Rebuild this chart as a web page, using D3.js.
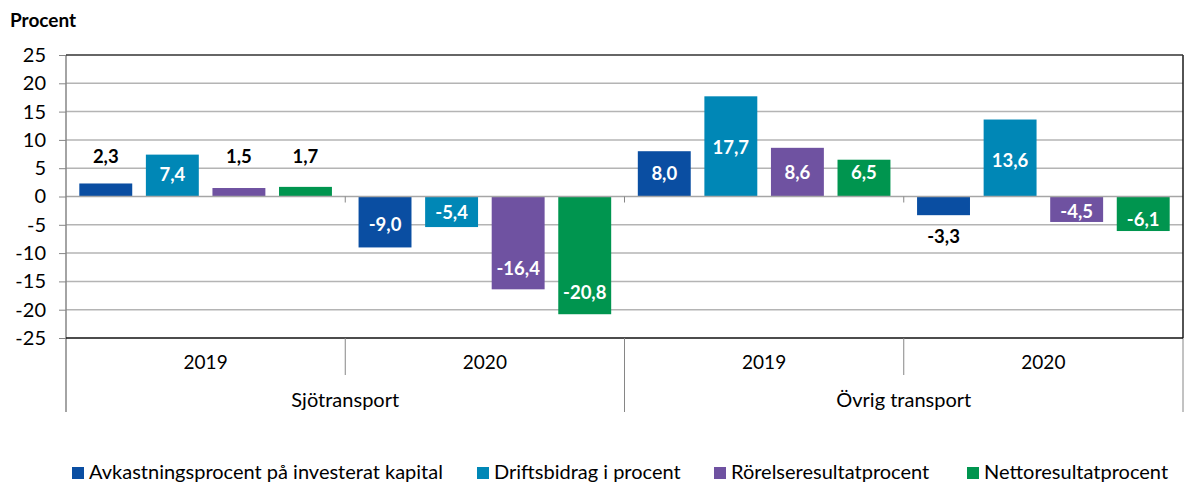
<!DOCTYPE html>
<html><head><meta charset="utf-8">
<script src="https://cdn.jsdelivr.net/npm/d3@7"></script>
<style>
html,body{margin:0;padding:0;background:#fff;}
svg{display:block;font-family:Lato,"Open Sans",sans-serif;}
</style></head>
<body>
<svg id="chart" width="1184" height="483"></svg>
<script>
// ---- data ----
const categories = ["Sjötransport", "Övrig transport"];
const years = ["2019", "2020"];
const seriesNames = ["Avkastningsprocent på investerat kapital", "Driftsbidrag i procent", "Rörelseresultatprocent", "Nettoresultatprocent"];
const seriesColors = ["#0A4EA2", "#0087B6", "#6F52A1", "#00954F"];
// values per subgroup: Sjö 2019, Sjö 2020, Övrig 2019, Övrig 2020
const avkastning = [2.3, -9.0, 8.0, -3.3];
const driftsbidrag = [7.4, -5.4, 17.7, 13.6];
const rorelseresultat = [1.5, -16.4, 8.6, -4.5];
const nettoresultat = [1.7, -20.8, 6.5, -6.1];
// where each data label sits, in value units
const labelAtAvk = [7.0, -5.0, 4.1, -7.1];
const labelAtDrift = [3.8, -2.9, 8.6, 6.4];
const labelAtRor = [7.0, -12.8, 4.15, -2.7];
const labelAtNetto = [7.0, -17.0, 4.15, -4.15];
const yTicks = [25, 20, 15, 10, 5, 0, -5, -10, -15, -20, -25];

const seriesValues = [avkastning, driftsbidrag, rorelseresultat, nettoresultat];
const labelAt = [labelAtAvk, labelAtDrift, labelAtRor, labelAtNetto];
const subgroups = [];
categories.forEach(c => years.forEach(y => subgroups.push(c + "|" + y)));

// ---- layout ----
const svg = d3.select("#chart");
const L = 66, R = 1183, T = 55, B = 338;

const y = d3.scaleLinear().domain([-25, 25]).range([B, T]);
const x0 = d3.scaleBand().domain(subgroups).range([L, R]).paddingInner(0).paddingOuter(0);
const x1 = d3.scaleBand().domain(d3.range(seriesNames.length)).range([0, x0.bandwidth()]).paddingInner(0.205).paddingOuter(0.2);
const xc = d3.scaleBand().domain(categories).range([L, R]);

// gridlines
svg.append("g").selectAll("line").data(yTicks.filter(t => t !== 25 && t !== -25 && t !== 0)).join("line")
  .attr("x1", L).attr("x2", R).attr("y1", d => y(d)).attr("y2", d => y(d))
  .attr("stroke", "#b4b4b4").attr("stroke-width", 1.5);

// y axis
const yAxis = d3.axisLeft(y).tickValues(yTicks).tickSize(7).tickPadding(13).tickFormat(d3.format("d"));
const gy = svg.append("g").attr("transform", `translate(${L},0)`).call(yAxis);
gy.select(".domain").remove();
gy.selectAll(".tick line").attr("stroke", "#868686").attr("stroke-width", 1);
gy.selectAll(".tick text").attr("font-family", "Lato").attr("font-size", 20).attr("fill", "#000")
  .text(d => d < 0 ? "-" + Math.abs(d) : d);

// bars
const barData = [];
seriesValues.forEach((arr, si) => arr.forEach((v, gi) => barData.push({si, gi, v, la: labelAt[si][gi]})));
svg.append("g").selectAll("rect").data(barData).join("rect")
  .attr("x", d => x0(subgroups[d.gi]) + x1(d.si))
  .attr("width", x1.bandwidth())
  .attr("y", d => y(Math.max(0, d.v)))
  .attr("height", d => Math.abs(y(d.v) - y(0)))
  .attr("fill", d => seriesColors[d.si]);

// zero axis
svg.append("line").attr("x1", L).attr("x2", R).attr("y1", y(0)).attr("y2", y(0)).attr("stroke", "#a6a6a6").attr("stroke-width", 1.5);
svg.append("g").selectAll("line").data(subgroups.slice(1)).join("line")
  .attr("x1", d => x0(d)).attr("x2", d => x0(d)).attr("y1", y(0)).attr("y2", y(0) + 6)
  .attr("stroke", "#868686").attr("stroke-width", 1);

// frame
svg.append("line").attr("x1", L).attr("x2", L).attr("y1", T).attr("y2", 412).attr("stroke", "#868686").attr("stroke-width", 1.5);
svg.append("line").attr("x1", R).attr("x2", R).attr("y1", B).attr("y2", 412).attr("stroke", "#868686").attr("stroke-width", 1);
svg.append("line").attr("x1", R).attr("x2", R).attr("y1", T).attr("y2", B).attr("stroke", "#1a1a1a").attr("stroke-width", 1.5);
svg.append("line").attr("x1", L).attr("x2", R).attr("y1", T).attr("y2", T).attr("stroke", "#333").attr("stroke-width", 1.5);
svg.append("line").attr("x1", L).attr("x2", R).attr("y1", B).attr("y2", B).attr("stroke", "#111").attr("stroke-width", 1.5);

// x dividers: year boundaries inside categories
categories.forEach(c => {
  const xm = x0(c + "|" + years[1]);
  svg.append("line").attr("x1", xm).attr("x2", xm).attr("y1", B).attr("y2", 375).attr("stroke", "#868686").attr("stroke-width", 1);
});
categories.slice(1).forEach(c => {
  const xm = xc(c);
  svg.append("line").attr("x1", xm).attr("x2", xm).attr("y1", B).attr("y2", 412).attr("stroke", "#868686").attr("stroke-width", 1);
});

// year labels
svg.append("g").selectAll("text").data(subgroups).join("text")
  .attr("x", d => x0(d) + x0.bandwidth() / 2).attr("y", 362).attr("dy", "0.35em")
  .attr("text-anchor", "middle").attr("font-size", 19).attr("fill", "#000")
  .text(d => d.split("|")[1]);
// category labels
svg.append("g").selectAll("text").data(categories).join("text")
  .attr("x", d => xc(d) + xc.bandwidth() / 2).attr("y", 400).attr("dy", "0.35em")
  .attr("text-anchor", "middle").attr("font-size", 20).attr("fill", "#000")
  .text(d => d);

// data labels
const fmt = v => (v < 0 ? "-" : "") + Math.abs(v).toFixed(1).replace(".", ",");
svg.append("g").selectAll("text").data(barData).join("text")
  .attr("x", d => x0(subgroups[d.gi]) + x1(d.si) + x1.bandwidth() / 2)
  .attr("y", d => y(d.la)).attr("dy", "0.35em")
  .attr("text-anchor", "middle").attr("font-size", 18.5).attr("font-weight", "bold")
  .attr("fill", d => {
    const inside = d.v >= 0 ? (d.la > 0 && d.la < d.v) : (d.la < 0 && d.la > d.v);
    return inside ? "#fff" : "#000";
  })
  .text(d => fmt(d.v));

// title
svg.append("text").attr("x", 10).attr("y", 27).attr("font-size", 19).attr("font-weight", "bold").attr("fill", "#000").text("Procent");

// legend
const legendX = [72, 477, 714, 967];
const lg = svg.append("g").selectAll("g").data(seriesNames).join("g")
  .attr("transform", (d, i) => `translate(${legendX[i]},0)`);
lg.append("rect").attr("x", 0).attr("y", 467).attr("width", 12).attr("height", 12).attr("fill", (d, i) => seriesColors[i]);
lg.append("text").attr("x", 17).attr("y", 479).attr("font-size", 20).attr("fill", "#000").text(d => d);
</script>
</body></html>
